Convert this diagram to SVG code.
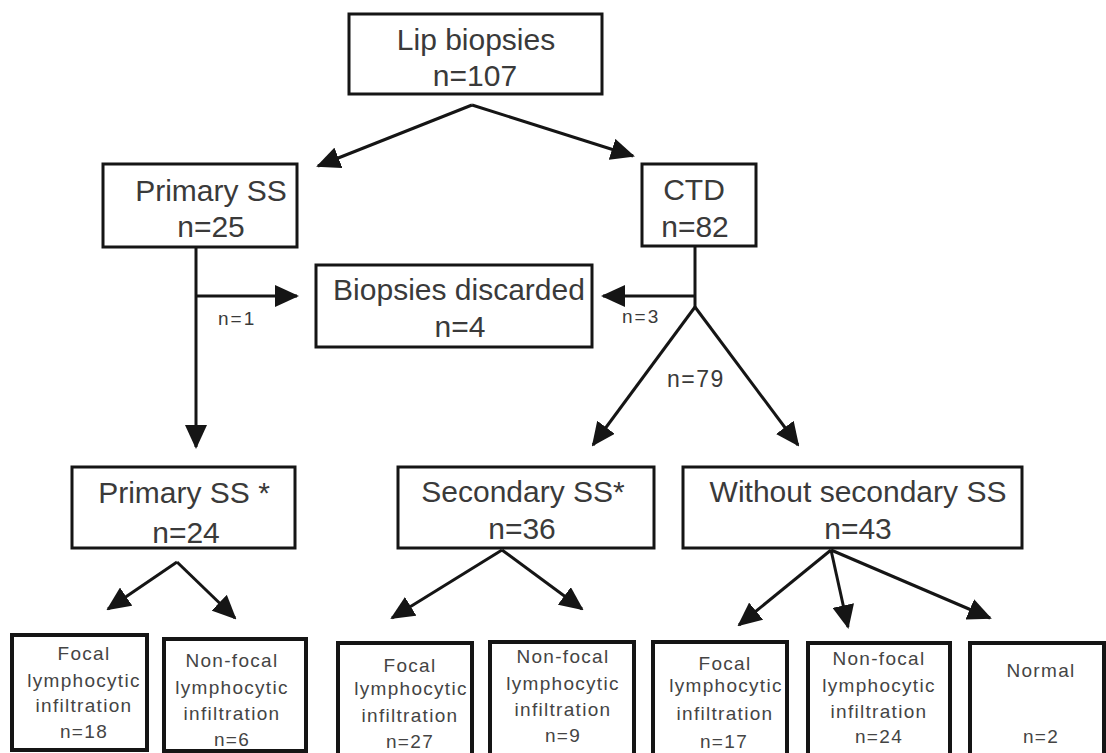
<svg xmlns="http://www.w3.org/2000/svg" width="1106" height="753" viewBox="0 0 1106 753">
<style>
.box{fill:#fff;stroke:#151515;stroke-width:3}
.sbox{fill:#fff;stroke:#151515;stroke-width:4}
.big{font-family:"Liberation Sans",Arial,sans-serif;font-size:30px;fill:#3a3a3a;text-anchor:middle}
.sm{font-family:"Liberation Sans",Arial,sans-serif;font-size:19px;fill:#444;text-anchor:middle;letter-spacing:1.3px}
.lbl{font-family:"Liberation Sans",Arial,sans-serif;fill:#3a3a3a}
.con line, .con path{stroke:#151515;stroke-width:3;fill:none;marker-end:url(#ah)}
.con .plain{marker-end:none}
</style>
<defs>
<marker id="ah" markerUnits="userSpaceOnUse" markerWidth="24" markerHeight="22" viewBox="0 0 24 22" refX="22" refY="11" orient="auto">
<path d="M0,0 L24,11 L0,22 z" fill="#151515"/>
</marker>
</defs>
<rect width="1106" height="753" fill="#fff"/>

<g class="con" id="connectors">
<line x1="472" y1="105" x2="318" y2="166"/>
<line x1="472" y1="105" x2="633" y2="156"/>
<line x1="196" y1="247" x2="196" y2="447"/>
<line x1="196" y1="296" x2="297" y2="296"/>
<line class="plain" x1="695" y1="246" x2="695" y2="308"/>
<line x1="695" y1="296" x2="603" y2="296"/>
<line x1="695" y1="307" x2="593" y2="445"/>
<line x1="695" y1="307" x2="798" y2="445"/>
<line x1="177" y1="562" x2="108" y2="609"/>
<line x1="177" y1="562" x2="235" y2="618"/>
<line x1="502" y1="550" x2="392" y2="618"/>
<line x1="502" y1="550" x2="582" y2="609"/>
<line x1="831" y1="550" x2="739" y2="625"/>
<line x1="831" y1="550" x2="848" y2="627"/>
<line x1="831" y1="550" x2="990" y2="618"/>
</g>

<g id="lbl-n1"><text class="lbl" x="218" y="325" font-size="19" letter-spacing="2">n=1</text></g>
<g id="lbl-n3"><text class="lbl" x="622" y="323" font-size="19" letter-spacing="2">n=3</text></g>
<g id="lbl-n79"><text class="lbl" x="667" y="387" font-size="23" letter-spacing="1.5">n=79</text></g>

<g id="lip">
<rect class="box" x="349" y="14" width="253" height="80"/>
<text class="big" x="476" y="50">Lip biopsies</text>
<text class="big" x="475" y="86">n=107</text>
</g>
<g id="primary">
<rect class="box" x="103" y="164" width="194" height="83"/>
<text class="big" x="211" y="201">Primary SS</text>
<text class="big" x="211" y="237">n=25</text>
</g>
<g id="ctd">
<rect class="box" x="642" y="164" width="114" height="82"/>
<text class="big" x="694" y="200">CTD</text>
<text class="big" x="695" y="237">n=82</text>
</g>
<g id="discarded">
<rect class="box" x="316" y="265" width="276" height="82"/>
<text class="big" x="459" y="300">Biopsies discarded</text>
<text class="big" x="460" y="337">n=4</text>
</g>
<g id="primary2">
<rect class="box" x="72" y="467" width="223" height="81"/>
<text class="big" x="184" y="503">Primary SS *</text>
<text class="big" x="186" y="543">n=24</text>
</g>
<g id="secondary">
<rect class="box" x="398" y="467" width="256" height="81"/>
<text class="big" x="523" y="502">Secondary SS*</text>
<text class="big" x="522" y="539">n=36</text>
</g>
<g id="without">
<rect class="box" x="683" y="467" width="339" height="81"/>
<text class="big" x="858" y="502">Without secondary SS</text>
<text class="big" x="858" y="539">n=43</text>
</g>

<g id="b1">
<rect class="sbox" x="12" y="635" width="135" height="115"/>
<text class="sm" x="84" y="660">Focal</text>
<text class="sm" x="84" y="687">lymphocytic</text>
<text class="sm" x="84" y="712">infiltration</text>
<text class="sm" x="84" y="738">n=18</text>
</g>
<g id="b2">
<rect class="sbox" x="164" y="639" width="142" height="112"/>
<text class="sm" x="232" y="667">Non-focal</text>
<text class="sm" x="232" y="694">lymphocytic</text>
<text class="sm" x="232" y="720">infiltration</text>
<text class="sm" x="232" y="746">n=6</text>
</g>
<g id="b3">
<rect class="sbox" x="338" y="643" width="134" height="116"/>
<text class="sm" x="410" y="672">Focal</text>
<text class="sm" x="411" y="695">lymphocytic</text>
<text class="sm" x="410" y="722">infiltration</text>
<text class="sm" x="410" y="748">n=27</text>
</g>
<g id="b4">
<rect class="sbox" x="490" y="642" width="144" height="117"/>
<text class="sm" x="563" y="663">Non-focal</text>
<text class="sm" x="563" y="690">lymphocytic</text>
<text class="sm" x="563" y="716">infiltration</text>
<text class="sm" x="563" y="742">n=9</text>
</g>
<g id="b5">
<rect class="sbox" x="653" y="642" width="134" height="117"/>
<text class="sm" x="725" y="670">Focal</text>
<text class="sm" x="726" y="692">lymphocytic</text>
<text class="sm" x="725" y="720">infiltration</text>
<text class="sm" x="724" y="748">n=17</text>
</g>
<g id="b6">
<rect class="sbox" x="808" y="643" width="142" height="116"/>
<text class="sm" x="879" y="665">Non-focal</text>
<text class="sm" x="879" y="692">lymphocytic</text>
<text class="sm" x="879" y="718">infiltration</text>
<text class="sm" x="879" y="743">n=24</text>
</g>
<g id="b7">
<rect class="sbox" x="970" y="643" width="134" height="116"/>
<text class="sm" x="1041" y="677">Normal</text>
<text class="sm" x="1041" y="743">n=2</text>
</g>
</svg>
